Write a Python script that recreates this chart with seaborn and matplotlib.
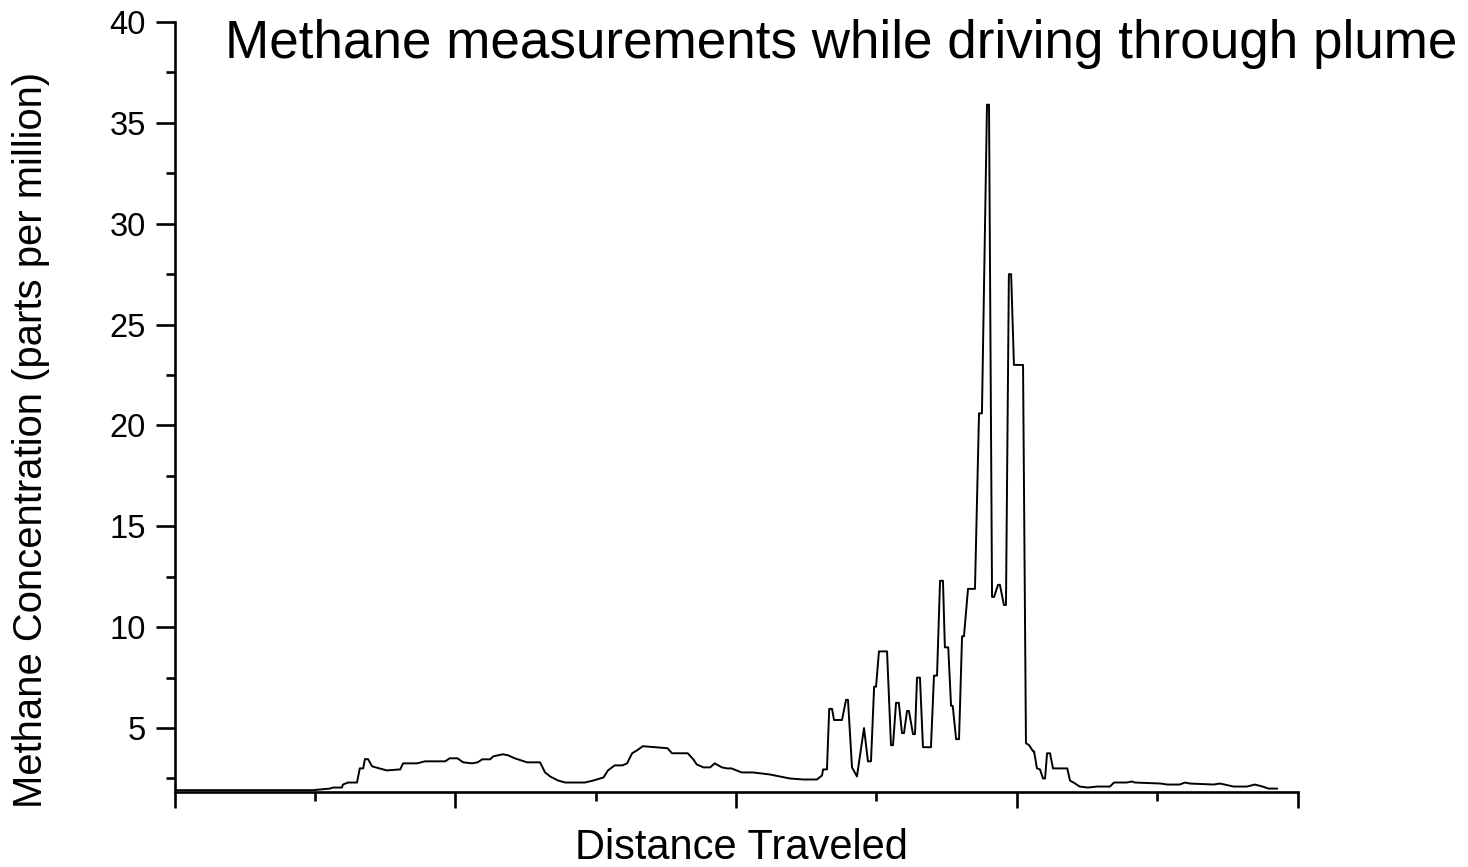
import matplotlib
matplotlib.use("Agg")
import matplotlib.pyplot as plt
import seaborn as sns
import pandas as pd
from matplotlib.ticker import MultipleLocator, NullFormatter

# ---- data (distance in arbitrary units 0..100, methane in ppm) ----
distance = [
    0.0, 12.3, 13.85, 14.1, 14.9, 15.0, 15.45, 16.25, 16.5, 16.8, 16.96, 17.23,
    17.6, 18.9, 20.1, 20.35, 21.6, 22.3, 24.1, 24.5, 25.2, 25.7, 26.5, 27.0,
    27.4, 28.1, 28.4, 29.25, 29.7, 30.3, 31.4, 32.55, 33.0, 33.45, 34.15, 34.8,
    36.55, 37.3, 38.2, 38.6, 39.2, 39.9, 40.3, 40.75, 41.2, 41.7, 43.9, 44.3,
    45.7, 46.2, 46.5, 47.1, 47.7, 48.1, 48.75, 49.2, 49.6, 50.5, 51.5, 53.0,
    54.8, 56.0, 57.2, 57.66, 57.75, 58.1, 58.3, 58.55, 58.73, 59.44, 59.8, 59.97,
    60.33, 60.77, 61.4, 61.75, 62.02, 62.3, 62.47, 62.73, 63.45, 63.8, 63.98, 64.25,
    64.5, 64.78, 64.96, 65.23, 65.4, 65.76, 65.94, 66.12, 66.38, 66.65, 67.36, 67.63,
    67.9, 68.17, 68.43, 68.6, 68.9, 69.15, 69.3, 69.6, 69.86, 70.13, 70.3, 70.66,
    71.28, 71.64, 71.9, 72.35, 72.53, 72.8, 72.98, 73.33, 73.5, 73.86, 74.04, 74.3,
    74.5, 74.75, 75.56, 75.82, 76.1, 76.45, 76.54, 76.8, 77.07, 77.34, 77.52, 77.7,
    77.96, 78.23, 78.7, 79.5, 79.74, 80.2, 80.6, 81.35, 82.15, 83.3, 83.66, 84.8,
    85.26, 85.5, 87.8, 88.4, 89.5, 90.0, 90.4, 92.5, 93.1, 94.3, 95.5, 96.2,
    96.9, 97.4, 98.2,
]
methane_ppm = [
    1.92, 1.92, 2.0, 2.05, 2.05, 2.2, 2.3, 2.3, 3.0, 3.0, 3.46, 3.46,
    3.1, 2.9, 2.95, 3.25, 3.25, 3.35, 3.35, 3.5, 3.5, 3.3, 3.25, 3.3,
    3.45, 3.45, 3.6, 3.7, 3.65, 3.5, 3.3, 3.3, 2.8, 2.6, 2.4, 2.3,
    2.3, 2.4, 2.55, 2.9, 3.15, 3.15, 3.25, 3.75, 3.9, 4.1, 4.0, 3.75,
    3.75, 3.45, 3.2, 3.05, 3.05, 3.25, 3.05, 3.0, 3.0, 2.8, 2.8, 2.7,
    2.5, 2.45, 2.45, 2.65, 2.95, 2.95, 5.95, 5.95, 5.4, 5.4, 6.4, 6.4,
    3.05, 2.6, 5.0, 3.35, 3.35, 7.05, 7.05, 8.8, 8.8, 4.15, 4.15, 6.25,
    6.25, 4.75, 4.75, 5.85, 5.85, 4.7, 4.7, 7.5, 7.5, 4.05, 4.05, 7.6,
    7.6, 12.3, 12.3, 9.0, 9.0, 6.1, 6.1, 4.45, 4.45, 9.55, 9.55, 11.9,
    11.9, 20.6, 20.6, 35.9, 35.9, 11.5, 11.5, 12.1, 12.1, 11.1, 11.1, 27.5,
    27.5, 23.0, 23.0, 4.25, 4.15, 3.85, 3.85, 3.0, 2.95, 2.5, 2.5, 3.75,
    3.75, 3.0, 3.0, 3.0, 2.4, 2.25, 2.1, 2.05, 2.1, 2.1, 2.3, 2.3,
    2.35, 2.3, 2.25, 2.2, 2.2, 2.3, 2.25, 2.2, 2.25, 2.1, 2.1, 2.2,
    2.1, 2.0, 2.0,
]
y_major_ticks = [5, 10, 15, 20, 25, 30, 35, 40]
title_text = "Methane measurements while driving through plume"
x_label = "Distance Traveled"
y_label = "Methane Concentration (parts per million)"

df = pd.DataFrame({"distance": distance, "methane": methane_ppm})

sns.set_style("ticks")
plt.rcParams["font.family"] = ["Liberation Sans", "DejaVu Sans"]
plt.rcParams["text.color"] = "black"
plt.rcParams["xtick.color"] = "black"
plt.rcParams["ytick.color"] = "black"

W, H = 1468, 867
fig = plt.figure(figsize=(W / 100, H / 100), dpi=100)
L, R, T, B = 174.5, 1297.5, 22, 792
ax = fig.add_axes([L / W, 1 - B / H, (R - L) / W, (B - T) / H])

sns.lineplot(data=df, x="distance", y="methane", ax=ax, color="black",
             linewidth=1.4, estimator=None, sort=False)

ax.set_xlim(0, 100)
ax.set_ylim(1.83, 40)
ax.set_xlabel("")
ax.set_ylabel("")

ax.xaxis.set_major_locator(MultipleLocator(25))
ax.xaxis.set_minor_locator(MultipleLocator(12.5))
ax.xaxis.set_major_formatter(NullFormatter())
ax.set_yticks(y_major_ticks)
ax.set_yticklabels([str(v) for v in y_major_ticks])
ax.yaxis.set_minor_locator(MultipleLocator(2.5))

for s in ["top", "right"]:
    ax.spines[s].set_visible(False)
for s in ["left", "bottom"]:
    ax.spines[s].set_linewidth(1.9)
    ax.spines[s].set_color("black")

ax.tick_params(axis="y", which="major", direction="out", length=13.5, width=1.9,
               labelsize=23.5, pad=7, colors="black")
ax.tick_params(axis="y", which="minor", direction="out", length=6.8, width=1.9,
               colors="black")
ax.tick_params(axis="x", which="major", direction="out", length=11.5, width=1.9,
               colors="black")
ax.tick_params(axis="x", which="minor", direction="out", length=6.5, width=1.9,
               colors="black")

fig.text(225 / W, 1 - 58 / H, title_text, fontsize=38.2, ha="left",
         va="baseline", color="black")
fig.text(741 / W, 1 - 859 / H, x_label, fontsize=30, ha="center",
         va="baseline", color="black")
fig.text(31 / W, 1 - 440 / H, y_label, fontsize=28.8, rotation=90,
         ha="center", va="center", color="black")

fig.savefig("out.png", dpi=100, facecolor="white")
